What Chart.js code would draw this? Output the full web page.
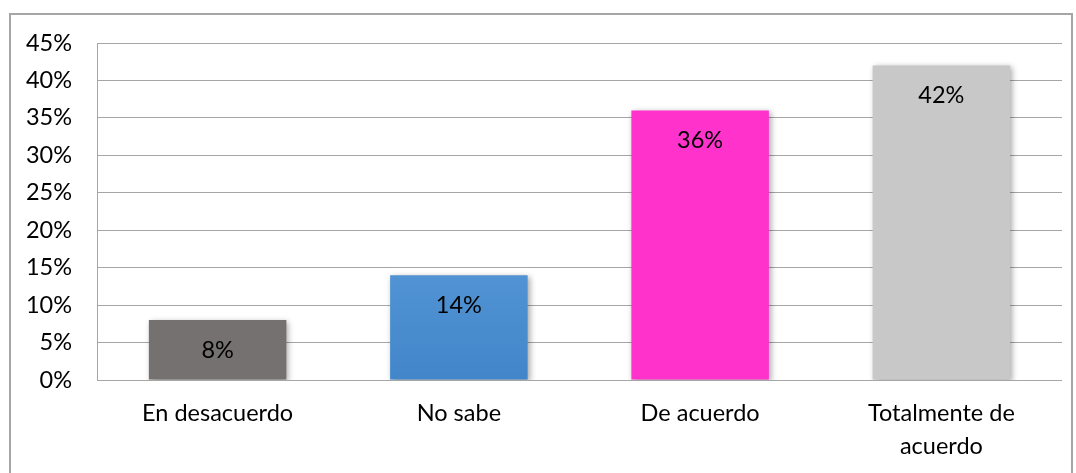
<!DOCTYPE html>
<html>
<head>
<meta charset="utf-8">
<script src="https://cdn.jsdelivr.net/npm/chart.js@4/dist/chart.umd.min.js"></script>
<style>
  html, body { margin: 0; padding: 0; background: #fff; }
  #frame {
    position: absolute; left: 9px; top: 13px; width: 1064px; height: 480px;
    border: 2px solid #a6a6a6; box-sizing: border-box;
  }
  #wrap { position: absolute; left: 0; top: 0; width: 1076px; height: 473px; }
</style>
</head>
<body>
<div id="frame"></div>
<div id="wrap"><canvas id="chart"></canvas></div>
<script>
const categories = ['En desacuerdo', 'No sabe', 'De acuerdo', ['Totalmente de', 'acuerdo']];
const values = [8, 14, 36, 42];
const yTicks = { min: 0, max: 45, step: 5 };

const FONT = 'Lato, "Open Sans", sans-serif';
const FONT_SIZE = 23.5;

// bar fill: flat colours, the second bar has a vertical gradient
function barColor(ctx) {
  const i = ctx.dataIndex;
  if (i === 0) return '#767171';
  if (i === 2) return '#ff33cc';
  if (i === 3) return '#c8c8c8';
  const { chart } = ctx;
  const area = chart.chartArea;
  if (!area) return '#5b9bd5';
  const el = chart.getDatasetMeta(0).data[i];
  const top = el && el.y ? el.y : area.top;
  const g = chart.ctx.createLinearGradient(0, top, 0, area.bottom);
  g.addColorStop(0, '#70a9de');
  g.addColorStop(0.5, '#5a9bd9');
  g.addColorStop(1, '#4286ca');
  return g;
}

const barShadow = {
  id: 'barShadow',
  beforeDatasetDraw(chart) {
    const c = chart.ctx;
    c.save();
    c.shadowColor = 'rgba(0,0,0,0.35)';
    c.shadowBlur = 6;
    c.shadowOffsetX = 2;
    c.shadowOffsetY = 2;
  },
  afterDatasetDraw(chart) {
    chart.ctx.restore();
  },
};

const valueLabels = {
  id: 'valueLabels',
  afterDatasetsDraw(chart) {
    const c = chart.ctx;
    const meta = chart.getDatasetMeta(0);
    c.save();
    c.font = `${FONT_SIZE}px ${FONT}`;
    c.fillStyle = '#000';
    c.textAlign = 'center';
    c.textBaseline = 'middle';
    meta.data.forEach((bar, i) => {
      c.fillText(`${values[i]}%`, bar.x, bar.y + 30);
    });
    c.restore();
  },
};

new Chart(document.getElementById('chart'), {
  type: 'bar',
  data: {
    labels: categories,
    datasets: [{
      data: values,
      backgroundColor: barColor,
      borderWidth: 0,
      barPercentage: 0.57,
      categoryPercentage: 1,
    }],
  },
  options: {
    responsive: true,
    maintainAspectRatio: false,
    animation: false,
    layout: { padding: { top: 43, right: 14, left: 0, bottom: 0 } },
    plugins: { legend: { display: false }, tooltip: { enabled: false } },
    scales: {
      x: {
        grid: { display: false, drawTicks: false },
        border: { display: false },
        ticks: {
          color: '#000',
          font: { family: FONT, size: FONT_SIZE, lineHeight: 33 / FONT_SIZE },
          padding: 17,
          maxRotation: 0,
        },
        afterFit(scale) { scale.height = 93; },
      },
      y: {
        min: yTicks.min,
        max: yTicks.max,
        grid: { color: '#a6a6a6', lineWidth: 1, drawTicks: false },
        border: { color: '#a6a6a6', width: 1 },
        ticks: {
          stepSize: yTicks.step,
          color: '#000',
          padding: 25,
          font: { family: FONT, size: FONT_SIZE },
          callback: (v) => `${v}%`,
        },
        afterFit(scale) { scale.width = 97; },
      },
    },
  },
  plugins: [barShadow, valueLabels],
});
</script>
</body>
</html>
